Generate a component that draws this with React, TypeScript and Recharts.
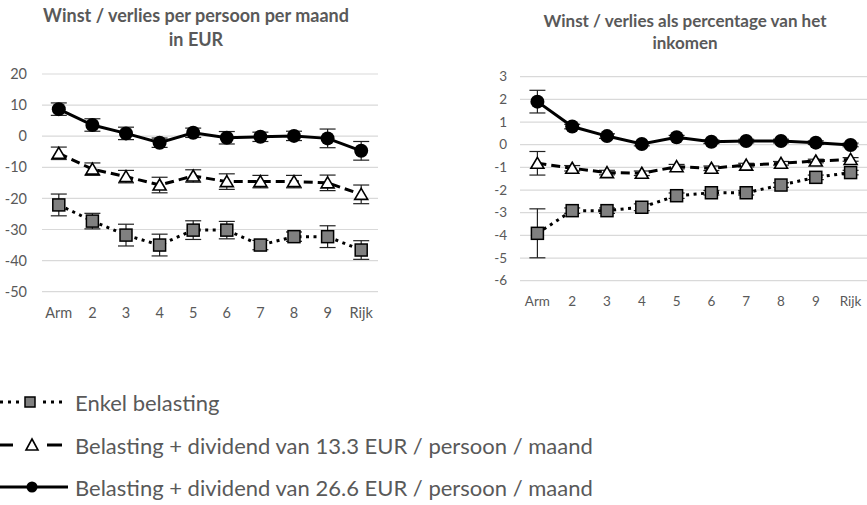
import React from 'react'
import { LineChart, Line, XAxis, YAxis, CartesianGrid, ErrorBar } from 'recharts'

const categories = ['Arm', '2', '3', '4', '5', '6', '7', '8', '9', 'Rijk']

// winst / verlies in EUR per persoon per maand
const eurEnkel = [-22.1, -27.3, -31.8, -35, -30.2, -30.2, -35, -32.3, -32.3, -36.6]
const eurEnkelErr = [3.5, 2.5, 3.5, 3.5, 3, 2.8, 1.5, 1.5, 3.5, 3]
const eurHalf = [-5.5, -10.6, -13, -15.7, -12.8, -14.6, -14.6, -14.6, -15, -18.7]
const eurHalfErr = [2, 2, 2, 2.5, 2, 2.5, 2, 2, 2.5, 3]
const eurVol = [8.7, 3.6, 0.9, -2.1, 1.1, -0.5, -0.2, 0.1, -0.7, -4.7]
const eurVolErr = [2, 2, 2, 1.5, 1.5, 2, 1.5, 1.5, 3, 3]

// winst / verlies als percentage van het inkomen
const pctEnkel = [-3.91, -2.91, -2.91, -2.76, -2.25, -2.12, -2.12, -1.78, -1.44, -1.23]
const pctEnkelErr = [1.08, 0.12, 0.12, 0.15, 0.12, 0.1, 0.1, 0.1, 0.1, 0.1]
const pctHalf = [-0.82, -1.04, -1.23, -1.26, -0.97, -1.04, -0.9, -0.82, -0.72, -0.65]
const pctHalfErr = [0.52, 0.12, 0.1, 0.1, 0.1, 0.1, 0.08, 0.08, 0.08, 0.08]
const pctVol = [1.9, 0.8, 0.38, 0.03, 0.33, 0.13, 0.16, 0.16, 0.09, -0.01]
const pctVolErr = [0.5, 0.1, 0.1, 0.08, 0.08, 0.08, 0.08, 0.08, 0.08, 0.08]

const eurTicks = [20, 10, 0, -10, -20, -30, -40, -50]
const pctTicks = [3, 2, 1, 0, -1, -2, -3, -4, -5, -6]

const legendLabels = [
  'Enkel belasting',
  'Belasting + dividend van 13.3 EUR / persoon / maand',
  'Belasting + dividend van 26.6 EUR / persoon / maand',
]

const eurData = categories.map((c, i) => ({
  cat: c,
  enkel: eurEnkel[i], enkelErr: eurEnkelErr[i],
  half: eurHalf[i], halfErr: eurHalfErr[i],
  vol: eurVol[i], volErr: eurVolErr[i],
}))

const pctData = categories.map((c, i) => ({
  cat: c,
  enkel: pctEnkel[i], enkelErr: pctEnkelErr[i],
  half: pctHalf[i], halfErr: pctHalfErr[i],
  vol: pctVol[i], volErr: pctVolErr[i],
}))

const FONT = 'Lato, "Open Sans", sans-serif'
const GREY = '#595959'

const SquareDot = (props: any) => {
  const { cx, cy, index } = props
  if (cx == null || cy == null) return <g key={index} />
  return <rect key={index} x={cx - 6} y={cy - 6} width={12} height={12} fill="#808080" stroke="#000" strokeWidth={1.5} />
}

const TriangleDot = (props: any) => {
  const { cx, cy, index } = props
  if (cx == null || cy == null) return <g key={index} />
  return (
    <path key={index} d={`M${cx},${cy - 6} L${cx + 6.5},${cy + 5} L${cx - 6.5},${cy + 5} Z`}
      fill="#fff" stroke="#000" strokeWidth={1.6} strokeLinejoin="miter" />
  )
}

const CircleDot = (props: any) => {
  const { cx, cy, index } = props
  if (cx == null || cy == null) return <g key={index} />
  return <circle key={index} cx={cx} cy={cy} r={7} fill="#000" />
}

function Panel({ data, ticks, domain, width, height, margin, yWidth, pad, fontSize, yMargin }: any) {
  return (
    <LineChart width={width} height={height} data={data} margin={margin}>
      <CartesianGrid vertical={false} stroke="#d9d9d9" strokeWidth={1.2} />
      <XAxis
        dataKey="cat"
        axisLine={false}
        tickLine={false}
        tickSize={0}
        tickMargin={16}
        height={30}
        padding={{ left: pad, right: pad }}
        interval={0}
        tick={{ fontSize, fill: GREY, fontFamily: FONT }}
      />
      <YAxis
        type="number"
        domain={domain}
        ticks={ticks}
        width={yWidth}
        axisLine={false}
        tickLine={false}
        tickSize={0}
        tickMargin={yMargin}
        interval={0}
        tick={{ fontSize, fill: GREY, fontFamily: FONT }}
      />
      <Line dataKey="enkel" stroke="#000" strokeWidth={3} strokeDasharray="3 4.5"
        dot={SquareDot} activeDot={false} isAnimationActive={false}>
        <ErrorBar dataKey="enkelErr" direction="y" width={8} stroke="#222" strokeWidth={1.2} />
      </Line>
      <Line dataKey="half" stroke="#000" strokeWidth={3} strokeDasharray="9 5"
        dot={TriangleDot} activeDot={false} isAnimationActive={false}>
        <ErrorBar dataKey="halfErr" direction="y" width={8} stroke="#222" strokeWidth={1.2} />
      </Line>
      <Line dataKey="vol" stroke="#000" strokeWidth={3}
        dot={CircleDot} activeDot={false} isAnimationActive={false}>
        <ErrorBar dataKey="volErr" direction="y" width={8} stroke="#222" strokeWidth={1.2} />
      </Line>
    </LineChart>
  )
}

function Legend() {
  const rows = [402, 445, 487]
  return (
    <svg width={660} height={135} style={{ position: 'absolute', left: 0, top: 370 }}>
      {rows.map((y, i) => {
        const ly = y - 370
        return (
          <g key={i}>
            {i === 0 && (
              <>
                <line x1={0} x2={20} y1={ly} y2={ly} stroke="#000" strokeWidth={3} strokeDasharray="3 5" />
                <line x1={43} x2={64} y1={ly} y2={ly} stroke="#000" strokeWidth={3} strokeDasharray="3 5" />
                <rect x={25} y={ly - 5} width={10} height={10} fill="#808080" stroke="#000" strokeWidth={1.5} />
              </>
            )}
            {i === 1 && (
              <>
                <line x1={0} x2={13} y1={ly} y2={ly} stroke="#000" strokeWidth={3} />
                <line x1={47} x2={62} y1={ly} y2={ly} stroke="#000" strokeWidth={3} />
                <path d={`M32,${ly - 6} L38,${ly + 5} L26,${ly + 5} Z`} fill="#fff" stroke="#000" strokeWidth={1.6} />
              </>
            )}
            {i === 2 && (
              <>
                <line x1={0} x2={68} y1={ly} y2={ly} stroke="#000" strokeWidth={3} />
                <circle cx={32} cy={ly} r={5.5} fill="#000" />
              </>
            )}
            <text x={75} y={ly} dominantBaseline="central" fontSize={22} fill={GREY} fontFamily={FONT}>
              {legendLabels[i]}
            </text>
          </g>
        )
      })}
    </svg>
  )
}

export default function App() {
  return (
    <div style={{ position: 'absolute', left: 0, top: 0, width: 867, height: 505, overflow: 'hidden', background: '#fff' }}>
      <div style={{
        position: 'absolute', left: 0, width: 392, top: 3, textAlign: 'center',
        fontFamily: FONT, fontWeight: 700, fontSize: 18, lineHeight: '24px', color: GREY,
      }}>
        Winst / verlies per persoon per maand<br />in EUR
      </div>
      <div style={{
        position: 'absolute', left: 485, width: 400, top: 10, textAlign: 'center',
        fontFamily: FONT, fontWeight: 700, fontSize: 17, lineHeight: '22px', color: GREY,
      }}>
        Winst / verlies als percentage van het<br />inkomen
      </div>
      <div style={{ position: 'absolute', left: 0, top: 0 }}>
        <Panel data={eurData} ticks={eurTicks} domain={[-50, 20]} width={420} height={330}
          margin={{ top: 74, right: 42, bottom: 8.3, left: 0 }} yWidth={42} pad={16.8}
          fontSize={14.5} yMargin={15} />
      </div>
      <div style={{ position: 'absolute', left: 440, top: 0 }}>
        <Panel data={pctData} ticks={pctTicks} domain={[-6, 3]} width={428} height={320}
          margin={{ top: 76.7, right: 0, bottom: 9.3, left: 0 }} yWidth={80} pad={17.4}
          fontSize={13.5} yMargin={13} />
      </div>
      <Legend />
    </div>
  )
}
